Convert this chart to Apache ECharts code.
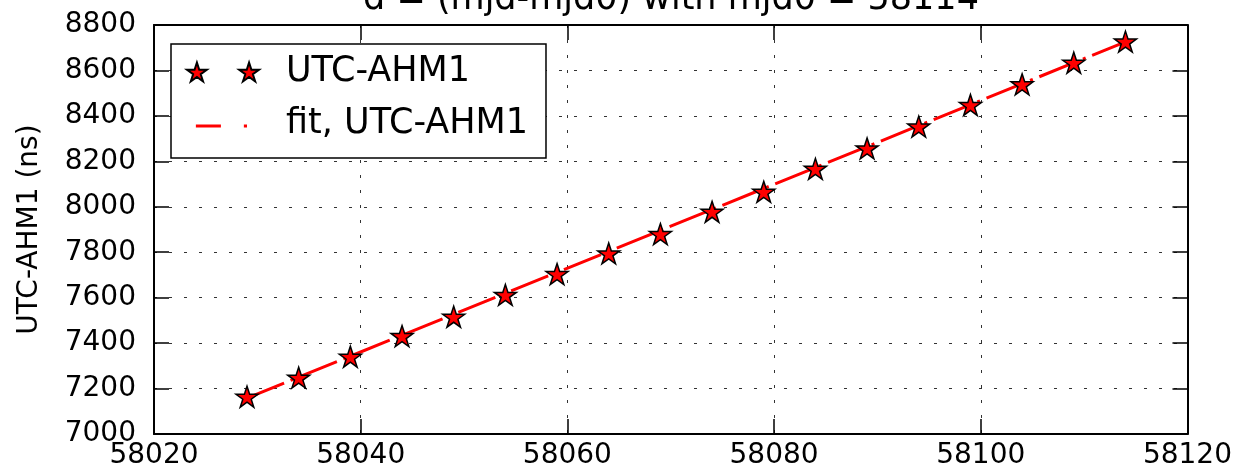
<!DOCTYPE html>
<html>
<head>
<meta charset="utf-8">
<script src="https://cdn.jsdelivr.net/npm/echarts@6/dist/echarts.min.js"></script>
<style>
html,body{margin:0;padding:0;background:#fff;}
#chart{width:1235px;height:470px;}
</style>
</head>
<body>
<div id="chart"></div>
<script>
// ---- data ----
const mjd = [58029, 58034, 58039, 58044, 58049, 58054, 58059, 58064, 58069,
             58074, 58079, 58084, 58089, 58094, 58099, 58104, 58109, 58114];
const utcAhm1 = [7164, 7248, 7340, 7431, 7516, 7612, 7704, 7795, 7880,
                 7978, 8066, 8167, 8257, 8353, 8448, 8539, 8634, 8727];
const fitMjd = [58029, 58114];
const fitVals = [7158, 8726];
const xTicks = [58020, 58040, 58060, 58080, 58100, 58120];
const yTicks = [7000, 7200, 7400, 7600, 7800, 8000, 8200, 8400, 8600, 8800];
const titleText = 'd = (mjd-mjd0) with mjd0 = 58114';
const yName = 'UTC-AHM1 (ns)';
const seriesNames = ['UTC-AHM1', 'fit, UTC-AHM1'];

// ---- shapes ----
const STAR_IN = 0.381966;
function starPath(cx, cy, R) {
  const r = R * STAR_IN;
  const pts = [];
  for (let i = 0; i < 10; i++) {
    const a = (-90 + i * 36) * Math.PI / 180;
    const rad = i % 2 ? r : R;
    pts.push((cx + rad * Math.cos(a)).toFixed(3) + ' ' + (cy + rad * Math.sin(a)).toFixed(3));
  }
  return 'M' + pts.join(' L') + ' Z';
}
const starSymbol = 'path://' + starPath(0, 0, 10);
// legend icons: two stars; the fit icon uses the same bounding box (invisible corner points)
const sx = 10 * Math.sin(72 * Math.PI / 180), sy = 10 * Math.cos(36 * Math.PI / 180);
const bx0 = (11 - sx).toFixed(3), bx1 = (61 + sx).toFixed(3), by1 = sy.toFixed(3);
const legendStarIcon = 'path://' + starPath(11, 0, 10) + ' ' + starPath(61, 0, 10);
const legendFitIcon = 'path://M' + bx0 + ' -10 L' + bx0 + ' -9.99 L' + (11 - sx + 0.01).toFixed(3) + ' -10 Z M' +
  bx1 + ' ' + by1 + ' L' + bx1 + ' ' + (sy - 0.01).toFixed(3) + ' L' + (61 + sx - 0.01).toFixed(3) + ' ' + by1 + ' Z ' +
  'M10 -0.5 L34 -0.5 L34 2.5 L10 2.5 Z M56 -0.5 L59 -0.5 L59 2.5 L56 2.5 Z';

const FONT = 'DejaVu Sans';
const xMin = xTicks[0], xMax = xTicks[xTicks.length - 1];
const yMin = yTicks[0], yMax = yTicks[yTicks.length - 1];
const xInt = xTicks[1] - xTicks[0], yInt = yTicks[1] - yTicks[0];

const gridLine = {show: true, lineStyle: {color: '#333', width: 1, type: [3, 12]}};
const axLine = {show: true, onZero: false, lineStyle: {color: '#000', width: 2}};
const tick = {show: true, inside: true, length: 15, lineStyle: {color: '#000', width: 1.5}};

const chart = echarts.init(document.getElementById('chart'), null, {renderer: 'canvas'});
chart.setOption({
  animation: false,
  backgroundColor: '#fff',
  title: {
    text: titleText, left: 671, top: -18, padding: 0, textAlign: 'center',
    textStyle: {fontFamily: FONT, fontSize: 35, fontWeight: 'normal', color: '#000'}
  },
  grid: {left: 154, right: 47, top: 25, bottom: 36, containLabel: false},
  legend: {
    orient: 'vertical', left: 171, top: 44,
    padding: [8, 18, 14, 15], itemGap: 12,
    itemWidth: 72, itemHeight: 20,
    borderColor: '#000', borderWidth: 1.5, borderRadius: 0, backgroundColor: '#fff',
    textStyle: {fontFamily: FONT, fontSize: 35, color: '#000', lineHeight: 40, padding: [0, 0, 0, 22]},
    data: [
      {name: seriesNames[0], icon: legendStarIcon},
      {name: seriesNames[1], icon: legendFitIcon}
    ]
  },
  xAxis: [{
    type: 'value', min: xMin, max: xMax, interval: xInt, position: 'bottom',
    axisLine: axLine, axisTick: tick, splitLine: gridLine,
    axisLabel: {fontFamily: FONT, fontSize: 28, color: '#000', margin: 8,
                formatter: v => String(v)}
  }, {
    type: 'value', min: xMin, max: xMax, interval: xInt, position: 'top',
    axisLine: axLine, axisTick: tick, splitLine: {show: false}, axisLabel: {show: false}
  }],
  yAxis: [{
    type: 'value', min: yMin, max: yMax, interval: yInt, position: 'left',
    name: yName, nameLocation: 'middle', nameGap: 110, nameRotate: 90,
    nameTextStyle: {fontFamily: FONT, fontSize: 28, color: '#000'},
    axisLine: axLine, axisTick: tick, splitLine: gridLine,
    axisLabel: {fontFamily: FONT, fontSize: 28, color: '#000', margin: 18,
                formatter: v => String(v)}
  }, {
    type: 'value', min: yMin, max: yMax, interval: yInt, position: 'right',
    axisLine: axLine, axisTick: tick, splitLine: {show: false}, axisLabel: {show: false}
  }],
  series: [{
    name: seriesNames[1], type: 'line', xAxisIndex: 0, yAxisIndex: 0, z: 2,
    data: fitMjd.map((x, i) => [x, fitVals[i]]),
    symbol: 'none', color: '#ff0000',
    itemStyle: {color: '#ff0000'},
    lineStyle: {color: '#ff0000', width: 3, type: [40, 7, 3, 7]}
  }, {
    name: seriesNames[0], type: 'scatter', xAxisIndex: 0, yAxisIndex: 0, z: 3,
    data: mjd.map((x, i) => [x, utcAhm1[i]]),
    symbol: starSymbol, symbolSize: 22, symbolKeepAspect: true,
    itemStyle: {color: '#ff0000', borderColor: '#000', borderWidth: 1.5, opacity: 1}
  }]
});
</script>
</body>
</html>
